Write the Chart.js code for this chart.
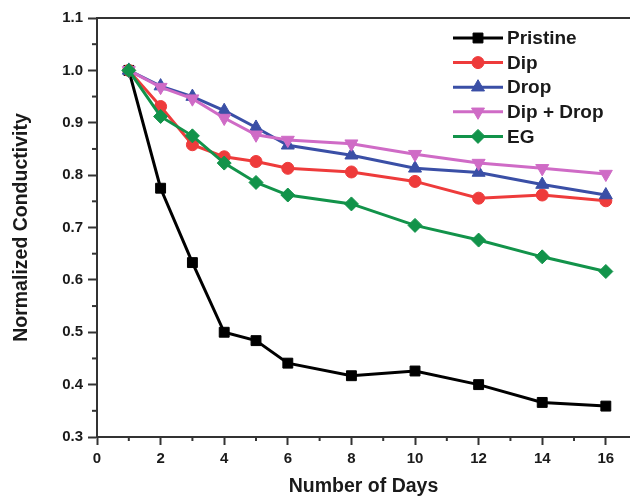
<!DOCTYPE html>
<html>
<head>
<meta charset="utf-8">
<script src="https://cdn.jsdelivr.net/npm/chart.js@4.4.1/dist/chart.umd.min.js"></script>
<style>
  body { margin: 0; background: #fff; }
  #wrap { width: 630px; height: 498px; }
</style>
</head>
<body>
<div id="wrap"><canvas id="condChart"></canvas></div>
<script>
const days = [1, 2, 3, 4, 5, 6, 8, 10, 12, 14, 16];
const pristine = [1.0, 0.775, 0.633, 0.500, 0.484, 0.441, 0.417, 0.426, 0.400, 0.366, 0.359];
const dip = [1.0, 0.931, 0.858, 0.835, 0.826, 0.813, 0.806, 0.788, 0.756, 0.762, 0.751];
const drop = [1.0, 0.970, 0.950, 0.923, 0.891, 0.857, 0.838, 0.813, 0.805, 0.782, 0.762];
const dipDrop = [1.0, 0.968, 0.946, 0.909, 0.877, 0.867, 0.860, 0.840, 0.823, 0.813, 0.802];
const eg = [1.0, 0.912, 0.875, 0.823, 0.786, 0.762, 0.745, 0.704, 0.676, 0.644, 0.616];

const xTicks = [0, 2, 4, 6, 8, 10, 12, 14, 16];
const yTicks = [0.3, 0.4, 0.5, 0.6, 0.7, 0.8, 0.9, 1.0, 1.1];

const FONT = "'Liberation Sans', Arial, sans-serif";
const INK = "#1a1a1a";
const AXIS = "#333333";

function pts(values) {
    return values.map((v, i) => ({ x: days[i], y: v }));
}

function serie(label, values, color, style, radius, rotation, order) {
    return {
        label: label,
        data: pts(values),
        borderColor: color,
        backgroundColor: color,
        borderWidth: 3,
        pointStyle: style,
        pointRadius: radius,
        pointRotation: rotation,
        pointBorderWidth: 1,
        pointBorderColor: color,
        pointBackgroundColor: color,
        tension: 0,
        order: order
    };
}

// minor ticks, top frame line and the legend
const extras = {
    id: "extras",
    afterDraw(chart) {
        const ctx = chart.ctx;
        const area = chart.chartArea;
        const xs = chart.scales.x;
        const ys = chart.scales.y;
        ctx.save();
        ctx.strokeStyle = AXIS;
        ctx.lineWidth = 2;

        ctx.beginPath();
        ctx.moveTo(area.left - 1, area.top);
        ctx.lineTo(area.right, area.top);
        ctx.stroke();

        for (let d = 1; d < 17; d += 2) {
            const px = xs.getPixelForValue(d);
            if (px > area.right) continue;
            ctx.beginPath();
            ctx.moveTo(px, area.bottom);
            ctx.lineTo(px, area.bottom + 4);
            ctx.stroke();
        }
        for (let v = 0.35; v < 1.1; v += 0.1) {
            const py = ys.getPixelForValue(v);
            ctx.beginPath();
            ctx.moveTo(area.left, py);
            ctx.lineTo(area.left - 5, py);
            ctx.stroke();
        }

        // legend
        const x0 = 453, x1 = 503, tx = 507;
        let y = 38;
        ctx.font = "bold 19px " + FONT;
        ctx.textBaseline = "middle";
        ctx.textAlign = "left";
        chart.data.datasets.forEach(ds => {
            ctx.strokeStyle = ds.borderColor;
            ctx.lineWidth = 3;
            ctx.beginPath();
            ctx.moveTo(x0, y);
            ctx.lineTo(x1, y);
            ctx.stroke();
            ctx.fillStyle = ds.backgroundColor;
            ctx.lineWidth = 1;
            Chart.helpers.drawPoint(ctx, {
                pointStyle: ds.pointStyle,
                rotation: ds.pointRotation,
                radius: ds.pointRadius,
                borderWidth: 1
            }, (x0 + x1) / 2, y);
            ctx.fillStyle = INK;
            ctx.fillText(ds.label, tx, y + 1);
            y += 24.6;
        });
        ctx.restore();
    }
};

const ctx = document.getElementById("condChart").getContext("2d");

const chart = new Chart(ctx, {
    type: "line",
    data: {
        datasets: [
            serie("Pristine", pristine, "#000000", "rect", 7, 0, 4),
            serie("Dip", dip, "#ee3b3b", "circle", 6, 0, 3),
            serie("Drop", drop, "#3a4fa6", "triangle", 7.5, 0, 2),
            serie("Dip + Drop", dipDrop, "#cf6bc6", "triangle", 7.5, 180, 1),
            serie("EG", eg, "#12934a", "rectRot", 7, 0, 0)
        ]
    },
    options: {
        animation: false,
        responsive: true,
        maintainAspectRatio: false,
        layout: {
            autoPadding: false,
            padding: { left: 10, right: 0, top: 18, bottom: 0 }
        },
        plugins: {
            legend: { display: false },
            tooltip: { enabled: false }
        },
        scales: {
            x: {
                type: "linear",
                min: 0,
                max: 16.76,
                afterBuildTicks: s => { s.ticks = xTicks.map(v => ({ value: v })); },
                afterFit: s => { s.height = 61; s.paddingRight = 0; s.paddingLeft = 0; },
                border: { display: true, color: AXIS, width: 2 },
                grid: { drawOnChartArea: false, drawTicks: true, tickLength: 8, tickWidth: 2, tickColor: AXIS },
                ticks: {
                    color: INK,
                    padding: 5,
                    maxRotation: 0,
                    font: { family: FONT, size: 15, weight: "bold" }
                },
                title: {
                    display: true,
                    text: "Number of Days",
                    color: INK,
                    padding: { top: 0, bottom: 0 },
                    font: { family: FONT, size: 19.5, weight: "bold" }
                }
            },
            y: {
                min: 0.3,
                max: 1.1,
                afterBuildTicks: s => { s.ticks = yTicks.map(v => ({ value: v })); },
                afterFit: s => { s.width = 87; s.paddingTop = 0; s.paddingBottom = 0; },
                border: { display: true, color: AXIS, width: 2 },
                grid: { drawOnChartArea: false, drawTicks: true, tickLength: 9, tickWidth: 2, tickColor: AXIS },
                ticks: {
                    color: INK,
                    padding: 5,
                    callback: v => Number(v).toFixed(1),
                    font: { family: FONT, size: 15, weight: "bold" }
                },
                title: {
                    display: true,
                    text: "Normalized Conductivity",
                    color: INK,
                    padding: { top: 0, bottom: 0 },
                    font: { family: FONT, size: 19.5, weight: "bold" }
                }
            }
        }
    },
    plugins: [extras]
});
</script>
</body>
</html>
